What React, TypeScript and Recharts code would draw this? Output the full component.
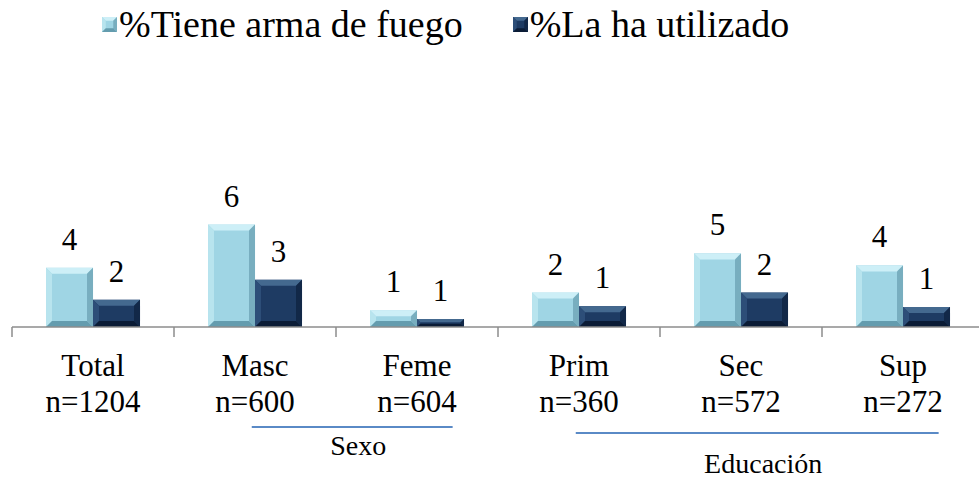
import React from "react";
import { BarChart, Bar, XAxis, YAxis, LabelList } from "recharts";

// categorias y tamaños de muestra
const categorias = ["Total", "Masc", "Feme", "Prim", "Sec", "Sup"];
const muestras = ["n=1204", "n=600", "n=604", "n=360", "n=572", "n=272"];

// porcentajes
const tieneArma = [3.7, 6.4, 1.04, 2.15, 4.6, 3.85];
const laHaUtilizado = [1.7, 2.95, 0.5, 1.3, 2.15, 1.25];

const grupos = [
  { nombre: "Sexo", desde: 1, hasta: 2, lineaY: 427, textoY: 455 },
  { nombre: "Educación", desde: 3, hasta: 5, lineaY: 433, textoY: 473 },
];

const FONT = "Times New Roman, Liberation Serif, Tinos, DejaVu Serif, serif";
const W = 979;
const H = 479;
const PLOT_LEFT = 12;
const BAND = 162;

const CLARO = { face: "#9fd5e4", top: "#cdeff7", left: "#b8e4ee", right: "#78aebf", bottom: "#649cae" };
const OSCURO = { face: "#1e3b63", top: "#44698f", left: "#2d4e78", right: "#122848", bottom: "#0b1c36" };

const data = categorias.map((cat, i) => ({
  cat,
  n: muestras[i],
  tiene: tieneArma[i],
  usado: laHaUtilizado[i],
}));

function BevelBar(props: any) {
  const { x, y, width: w, height: h, palette } = props;
  if (!h || h <= 0) return null;
  const b = Math.min(6, w / 4, h / 2.5);
  return (
    <g>
      <rect x={x} y={y} width={w} height={h} fill={palette.face} />
      <polygon points={`${x},${y} ${x + w},${y} ${x + w - b},${y + b} ${x + b},${y + b}`} fill={palette.top} />
      <polygon points={`${x},${y} ${x + b},${y + b} ${x + b},${y + h - b} ${x},${y + h}`} fill={palette.left} />
      <polygon points={`${x + w},${y} ${x + w},${y + h} ${x + w - b},${y + h - b} ${x + w - b},${y + b}`} fill={palette.right} />
      <polygon points={`${x},${y + h} ${x + b},${y + h - b} ${x + w - b},${y + h - b} ${x + w},${y + h}`} fill={palette.bottom} />
    </g>
  );
}

function CategoryTick(props: any) {
  const { x, y, payload, index } = props;
  const half = payload?.offset || BAND / 2;
  return (
    <g>
      <line x1={x - half} x2={x - half} y1={y} y2={y + 10} stroke="#8c8c8c" strokeWidth={1.5} />
      <text x={x} y={y + 49} textAnchor="middle" style={{ fontFamily: FONT }} fontSize={31} fill="#000">
        {payload.value}
      </text>
      <text x={x} y={y + 85} textAnchor="middle" style={{ fontFamily: FONT }} fontSize={31} fill="#000">
        {muestras[index]}
      </text>
    </g>
  );
}

function LegendIcon({ palette }: { palette: typeof CLARO }) {
  return (
    <svg width={15} height={15} style={{ marginRight: 2 }}>
      <BevelBar x={0} y={0} width={15} height={15} palette={palette} />
    </svg>
  );
}

export default function App() {
  return (
    <div style={{ position: "absolute", left: 0, top: 0, width: W, height: H, overflow: "hidden", background: "#fff", fontFamily: FONT }}>
      <div
        style={{
          position: "absolute",
          left: 102,
          top: 2,
          display: "flex",
          alignItems: "center",
          gap: 50,
          fontFamily: FONT,
          fontSize: 38,
          whiteSpace: "nowrap",
        }}
      >
        <div style={{ display: "flex", alignItems: "center" }}>
          <LegendIcon palette={CLARO} />
          <span>%Tiene arma de fuego</span>
        </div>
        <div style={{ display: "flex", alignItems: "center" }}>
          <LegendIcon palette={OSCURO} />
          <span>%La ha utilizado</span>
        </div>
      </div>

      <BarChart
        width={990}
        height={H}
        data={data}
        margin={{ top: 167, right: 6, bottom: 52, left: PLOT_LEFT }}
        barCategoryGap="21%"
        barGap={0}
      >
        <YAxis hide domain={[0, 10]} />
        <XAxis
          dataKey="cat"
          height={100}
          interval={0}
          tickLine={false}
          tickSize={0}
          tickMargin={0}
          axisLine={{ stroke: "#8c8c8c", strokeWidth: 1.5 }}
          tick={<CategoryTick />}
        />
        <Bar dataKey="tiene" isAnimationActive={false} shape={(p: any) => <BevelBar {...p} palette={CLARO} />}>
          <LabelList
            dataKey="tiene"
            position="top"
            offset={18}
            formatter={(v: any) => Math.round(Number(v))}
            style={{ fontFamily: FONT, fontSize: 31, fill: "#000" }}
          />
        </Bar>
        <Bar dataKey="usado" isAnimationActive={false} shape={(p: any) => <BevelBar {...p} palette={OSCURO} />}>
          <LabelList
            dataKey="usado"
            position="top"
            offset={18}
            formatter={(v: any) => Math.round(Number(v))}
            style={{ fontFamily: FONT, fontSize: 31, fill: "#000" }}
          />
        </Bar>
      </BarChart>

      <svg width={W} height={H} style={{ position: "absolute", left: 0, top: 0, pointerEvents: "none" }}>
        {grupos.map((g) => {
          const x1 = PLOT_LEFT + BAND * g.desde + 0.48 * BAND;
          const x2 = PLOT_LEFT + BAND * g.hasta + 0.72 * BAND;
          return (
            <g key={g.nombre}>
              <line x1={x1} x2={x2} y1={g.lineaY} y2={g.lineaY} stroke="#5a8ac6" strokeWidth={2} />
              <text x={(x1 + x2) / 2 + 6} y={g.textoY} textAnchor="middle" style={{ fontFamily: FONT }} fontSize={28} fill="#000">
                {g.nombre}
              </text>
            </g>
          );
        })}
      </svg>
    </div>
  );
}
